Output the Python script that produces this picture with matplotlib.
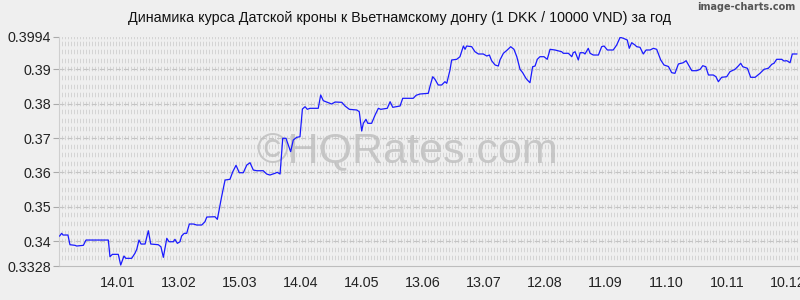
import numpy as np
import matplotlib
matplotlib.use("Agg")
import matplotlib.pyplot as plt

# Day offset from the start of the period (16.12) and DKK/VND rate (per 10000 VND)
days = [0.3, 1.3, 2.0, 4.4, 5.4, 7.9, 8.7, 12.0, 13.3, 24.3, 25.1, 26.3, 29.2, 30.4, 32.0, 32.9,
        35.8, 37.4, 38.3, 39.4, 40.4, 42.4, 44.0, 45.2, 48.9, 50.2, 51.4, 53.1, 54.2, 56.3, 57.1,
        58.3, 59.6, 60.4, 61.7, 62.9, 64.2, 66.2, 67.8, 70.3, 71.9, 72.8, 76.8, 78.0, 80.1, 81.8,
        84.2, 85.6, 87.2, 88.8, 90.8, 92.5, 94.1, 95.7, 97.4, 100.6, 102.3, 103.9, 106.4, 107.5,
        108.9, 110.2, 111.8, 114.1, 115.4, 117.1, 118.7, 119.9, 121.2, 122.3, 123.6, 127.7, 128.9,
        130.2, 132.7, 134.3, 136.0, 139.3, 140.9, 143.0, 146.7, 147.9, 149.1, 149.9, 151.2, 152.1,
        154.0, 155.7, 157.3, 158.5, 161.7, 163.1, 164.4, 168.0, 169.3, 174.5, 175.9, 177.8, 181.9,
        182.8, 184.1, 185.2, 186.8, 188.5, 190.1, 191.0, 192.6, 193.4, 195.9, 197.5, 199.2, 200.0,
        200.8, 203.3, 204.9, 206.6, 209.0, 210.7, 212.0, 213.1, 214.8, 216.4, 217.2, 218.9, 220.8,
        222.5, 224.1, 225.5, 227.1, 228.4, 230.0, 230.7, 232.0, 233.3, 234.5, 235.6, 236.9, 238.9,
        240.5, 241.9, 244.3, 247.6, 248.4, 250.9, 252.6, 253.3, 254.2, 255.8, 256.7, 258.3, 259.1,
        260.7, 261.6, 263.2, 265.7, 267.3, 268.5, 270.1, 273.0, 274.7, 276.4, 278.0, 279.9, 280.9,
        282.1, 283.7, 284.6, 286.2, 287.8, 289.2, 291.1, 292.8, 294.4, 296.4, 298.0, 300.2, 301.8,
        303.4, 305.1, 307.5, 308.9, 311.7, 314.1, 315.8, 317.1, 318.6, 319.9, 322.3, 323.6, 324.8,
        326.4, 328.9, 330.5, 333.0, 334.6, 335.8, 336.8, 339.1, 340.7, 342.9, 345.3, 347.3, 349.4,
        351.1, 352.2, 353.5, 356.0, 357.1, 358.5, 360.1, 361.2, 363.4]
rates = [0.34152, 0.34230, 0.34181, 0.34181, 0.33899, 0.33881, 0.33861, 0.33881, 0.34035, 0.34035,
         0.33550, 0.33619, 0.33619, 0.33308, 0.33570, 0.33503, 0.33503, 0.33649, 0.33765, 0.34035,
         0.33919, 0.33919, 0.34306, 0.33919, 0.33899, 0.33840, 0.33532, 0.34085, 0.33986, 0.33986,
         0.34056, 0.33939, 0.33986, 0.34152, 0.34230, 0.34230, 0.34501, 0.34501, 0.34472, 0.34472,
         0.34568, 0.34704, 0.34713, 0.34637, 0.35295, 0.35781, 0.35801, 0.36022, 0.36208, 0.35993,
         0.35993, 0.36217, 0.36284, 0.36071, 0.36051, 0.36051, 0.35955, 0.35926, 0.35976, 0.36005,
         0.35955, 0.36994, 0.36994, 0.36604, 0.36944, 0.37023, 0.37040, 0.37846, 0.37913, 0.37837,
         0.37866, 0.37866, 0.38253, 0.38087, 0.38029, 0.37991, 0.38049, 0.38040, 0.37933, 0.37837,
         0.37817, 0.37767, 0.37206, 0.37430, 0.37546, 0.37430, 0.37430, 0.37671, 0.37866, 0.37837,
         0.37866, 0.38058, 0.37895, 0.37933, 0.38157, 0.38157, 0.38244, 0.38282, 0.38302, 0.38515,
         0.38785, 0.38710, 0.38544, 0.38544, 0.38640, 0.38593, 0.38980, 0.39271, 0.39291, 0.39367,
         0.39678, 0.39582, 0.39678, 0.39658, 0.39512, 0.39446, 0.39446, 0.39387, 0.39416, 0.39251,
         0.39126, 0.39096, 0.39271, 0.39466, 0.39562, 0.39658, 0.39582, 0.39367, 0.39000, 0.38902,
         0.38739, 0.38689, 0.38611, 0.39076, 0.39096, 0.39291, 0.39367, 0.39367, 0.39291, 0.39582,
         0.39562, 0.39512, 0.39466, 0.39466, 0.39367, 0.39483, 0.39512, 0.39271, 0.39483, 0.39483,
         0.39446, 0.39611, 0.39466, 0.39416, 0.39416, 0.39658, 0.39678, 0.39562, 0.39562, 0.39707,
         0.39931, 0.39902, 0.39853, 0.39611, 0.39774, 0.39707, 0.39658, 0.39640, 0.39446, 0.39562,
         0.39562, 0.39611, 0.39582, 0.39271, 0.39126, 0.39082, 0.38902, 0.38884, 0.39155, 0.39192,
         0.39251, 0.38960, 0.38960, 0.39000, 0.39105, 0.39076, 0.38835, 0.38835, 0.38785, 0.38640,
         0.38768, 0.38785, 0.38931, 0.39000, 0.39096, 0.39175, 0.39076, 0.39030, 0.38768, 0.38768,
         0.38884, 0.39000, 0.39030, 0.39146, 0.39175, 0.39291, 0.39291, 0.39242, 0.39251, 0.39192,
         0.39446, 0.39446]

tick_days = [29, 59, 89, 119, 149, 179, 209, 239, 269, 299, 329, 359]
tick_labels = ["14.01", "13.02", "15.03", "14.04", "14.05", "13.06", "13.07",
               "12.08", "11.09", "11.10", "10.11", "10.12"]
y_ticks = [0.3328, 0.34, 0.35, 0.36, 0.37, 0.38, 0.39, 0.3994]
y_labels = ["0.3328", "0.34", "0.35", "0.36", "0.37", "0.38", "0.39", "0.3994"]
y_min, y_max = 0.3328, 0.3994
n_days = 365

title = "Динамика курса Датской кроны к Вьетнамскому донгу (1 DKK / 10000 VND) за год"

plt.rcParams["font.family"] = ["Liberation Sans", "DejaVu Sans"]
plt.rcParams["lines.scale_dashes"] = False
bg = "#efefef"

fig = plt.figure(figsize=(8, 3), dpi=100, facecolor=bg)
ax = fig.add_axes([59 / 800, 34 / 300, 741 / 800, 229 / 300])
ax.set_facecolor(bg)
ax.set_xlim(0, n_days)
ax.set_ylim(y_min, y_max)

# hatched background rows (short vertical marks), like the image-charts pattern
for yv in np.arange(0.335, y_max + 0.0001, 0.0025):
    ax.axhline(yv, color="#d4d4d4", lw=3.2, linestyle=(0, (0.72, 1.44)), zorder=0.5)
ax.axhline(y_max - 0.0001, color="#d4d4d4", lw=3.2, linestyle=(0, (0.72, 1.44)), zorder=0.5)

# major dashed grid
for yv in y_ticks[1:-1]:
    ax.axhline(yv, color="#c4c4c4", lw=0.8, linestyle=(0, (3.6, 2.2)), zorder=0.8)

# watermark
ax.text(0.47, 0.5, "©HQRates.com", transform=ax.transAxes, ha="center", va="center",
        fontsize=31, color="#bdbdbd", alpha=0.8, zorder=1)

ax.plot(days, rates, color="#1a1aff", lw=0.9, zorder=3)

for side in ("top", "right"):
    ax.spines[side].set_visible(False)
ax.spines["left"].set_color("#cfcfcf")
ax.spines["left"].set_linewidth(0.8)
ax.spines["bottom"].set_color("#bdbdbd")
ax.spines["bottom"].set_linewidth(0.8)

ax.set_yticks(y_ticks)
ax.set_yticklabels(y_labels)
ax.set_xticks(tick_days)
ax.set_xticklabels(tick_labels)
ax.tick_params(axis="y", length=4, color="#aaaaaa", pad=1.5, labelsize=10.3, labelcolor="#222222")
ax.tick_params(axis="x", length=0, pad=7, labelsize=10.3, labelcolor="#222222")

fig.text(0.5, 1 - 18 / 300, title, ha="center", va="center", fontsize=10.3, color="#111111")
fig.text(795 / 800, 1 - 7 / 300, "image-charts.com", ha="right", va="center", fontsize=7,
         color="#555555", family=["Liberation Sans Narrow", "DejaVu Sans"], weight="bold")

fig.savefig("out.png", dpi=100, facecolor=bg)
